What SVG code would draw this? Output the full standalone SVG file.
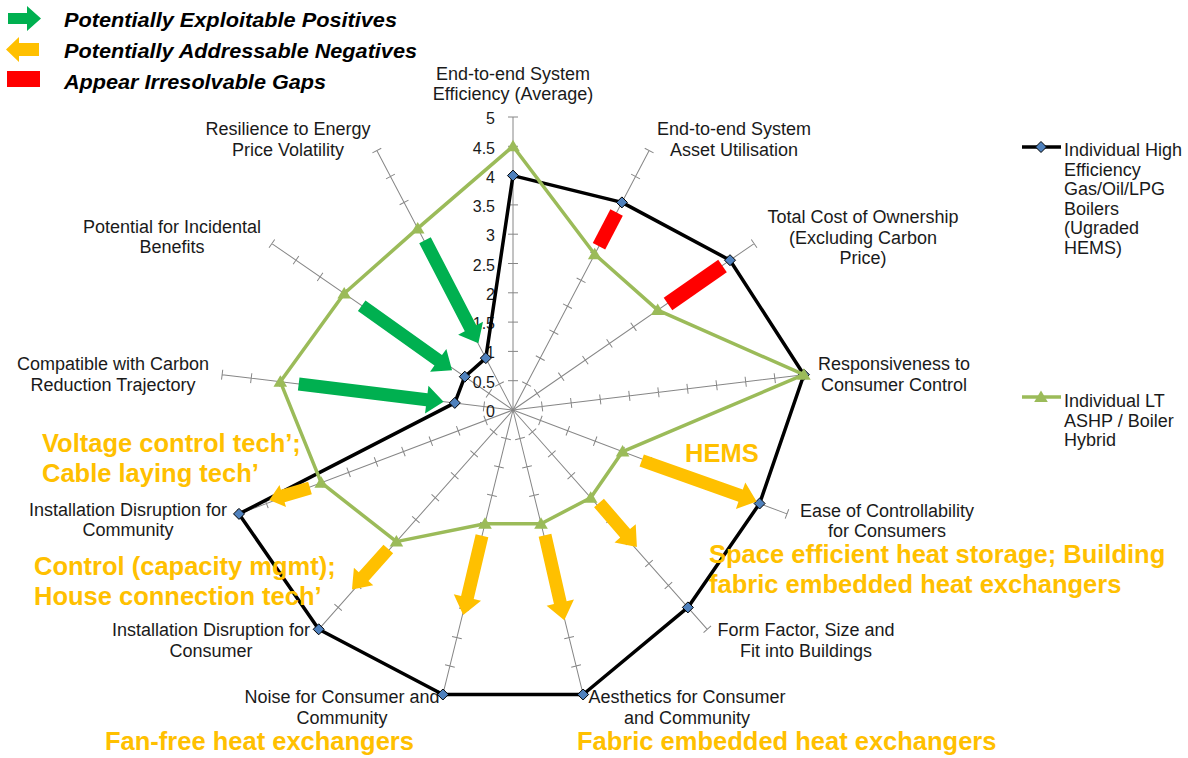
<svg xmlns="http://www.w3.org/2000/svg" xmlns:xlink="http://www.w3.org/1999/xlink" width="1188" height="758" viewBox="0 0 1188 758">
<style>
  .lbl{font-family:"Liberation Sans",Arial,sans-serif;font-size:18px;fill:#1a1a1a;text-anchor:middle}
  .val{font-family:"Liberation Sans",Arial,sans-serif;font-size:16px;fill:#1a1a1a;text-anchor:end}
  .leg{font-family:"Liberation Sans",Arial,sans-serif;font-size:18px;fill:#1a1a1a}
  .key{font-family:"Liberation Sans",Arial,sans-serif;font-size:20px;font-weight:bold;font-style:italic;fill:#000}
  .ann{font-family:"Liberation Sans",Arial,sans-serif;font-size:25.5px;font-weight:bold;fill:#FFC000}
  .axis{stroke:#868686;stroke-width:1;fill:none}
  .blk{fill:none;stroke:#000;stroke-width:3.5;stroke-linejoin:round}
  .grn{fill:none;stroke:#9BBB59;stroke-width:3.5;stroke-linejoin:round}
  .dia{fill:#4F81BD;stroke:#000;stroke-width:1}
  .tri{fill:#9BBB59}
  .ga{fill:#00B050}
  .ya{fill:#FFC000}
  .gap{stroke:#FF0000;fill:none}
</style>
<defs>
  <path id="ax" d="M513 410V117M508 380.7h10M508 351.4h10M508 322.1h10M508 292.8h10M508 263.5h10M508 234.2h10M508 204.9h10M508 175.6h10M508 146.3h10M508 117h10"/>
  <path id="dm" d="M0 -5.5L5.5 0L0 5.5L-5.5 0Z"/>
  <path id="tr" d="M0 -6.5L6.8 5L-6.8 5Z"/>
</defs>
<rect width="1188" height="758" fill="#fff"/>

<g id="key">
  <polygon class="ga" points="8,13 27,13 27,6 41,18.5 27,31 27,24 8,24"/>
  <text class="key" x="64" y="27" textLength="333" lengthAdjust="spacingAndGlyphs">Potentially Exploitable Positives</text>
  <polygon class="ya" points="6,49.5 19,37 19,43 39,43 39,56 19,56 19,62"/>
  <text class="key" x="64" y="58" textLength="353" lengthAdjust="spacingAndGlyphs">Potentially Addressable Negatives</text>
  <rect x="7" y="71" width="33" height="16" fill="#FF0000"/>
  <text class="key" x="64" y="89" textLength="262" lengthAdjust="spacingAndGlyphs">Appear Irresolvable Gaps</text>
</g>

<g id="grid" class="axis">
  <use xlink:href="#ax"/>
  <use xlink:href="#ax" transform="rotate(27.6923 513 410)"/>
  <use xlink:href="#ax" transform="rotate(55.3846 513 410)"/>
  <use xlink:href="#ax" transform="rotate(83.0769 513 410)"/>
  <use xlink:href="#ax" transform="rotate(110.7692 513 410)"/>
  <use xlink:href="#ax" transform="rotate(138.4615 513 410)"/>
  <use xlink:href="#ax" transform="rotate(166.1538 513 410)"/>
  <use xlink:href="#ax" transform="rotate(193.8462 513 410)"/>
  <use xlink:href="#ax" transform="rotate(221.5385 513 410)"/>
  <use xlink:href="#ax" transform="rotate(249.2308 513 410)"/>
  <use xlink:href="#ax" transform="rotate(276.9231 513 410)"/>
  <use xlink:href="#ax" transform="rotate(304.6154 513 410)"/>
  <use xlink:href="#ax" transform="rotate(332.3077 513 410)"/>
</g>

<g id="values">
  <text class="val" x="495" y="417">0</text>
  <text class="val" x="495" y="388">0.5</text>
  <text class="val" x="495" y="358">1</text>
  <text class="val" x="495" y="329">1.5</text>
  <text class="val" x="495" y="300">2</text>
  <text class="val" x="495" y="271">2.5</text>
  <text class="val" x="495" y="241">3</text>
  <text class="val" x="495" y="212">3.5</text>
  <text class="val" x="495" y="183">4</text>
  <text class="val" x="495" y="154">4.5</text>
  <text class="val" x="495" y="124">5</text>
</g>

<g id="categories">
  <g id="cat0"><text class="lbl" x="513" y="80">End-to-end System</text><text class="lbl" x="513" y="100">Efficiency (Average)</text></g>
  <g id="cat1"><text class="lbl" x="734" y="135">End-to-end System</text><text class="lbl" x="734" y="156">Asset Utilisation</text></g>
  <g id="cat2"><text class="lbl" x="863" y="223">Total Cost of Ownership</text><text class="lbl" x="863" y="244">(Excluding Carbon</text><text class="lbl" x="863" y="264">Price)</text></g>
  <g id="cat3"><text class="lbl" x="894" y="370">Responsiveness to</text><text class="lbl" x="894" y="391">Consumer Control</text></g>
  <g id="cat4"><text class="lbl" x="887" y="517">Ease of Controllability</text><text class="lbl" x="887" y="537">for Consumers</text></g>
  <g id="cat5"><text class="lbl" x="806" y="636">Form Factor, Size and</text><text class="lbl" x="806" y="657">Fit into Buildings</text></g>
  <g id="cat6"><text class="lbl" x="687" y="703">Aesthetics for Consumer</text><text class="lbl" x="687" y="724">and Community</text></g>
  <g id="cat7"><text class="lbl" x="342" y="703">Noise for Consumer and</text><text class="lbl" x="342" y="724">Community</text></g>
  <g id="cat8"><text class="lbl" x="211" y="636">Installation Disruption for</text><text class="lbl" x="211" y="657">Consumer</text></g>
  <g id="cat9"><text class="lbl" x="128" y="516">Installation Disruption for</text><text class="lbl" x="128" y="536">Community</text></g>
  <g id="cat10"><text class="lbl" x="113" y="370">Compatible with Carbon</text><text class="lbl" x="113" y="391">Reduction Trajectory</text></g>
  <g id="cat11"><text class="lbl" x="172" y="233">Potential for Incidental</text><text class="lbl" x="172" y="253">Benefits</text></g>
  <g id="cat12"><text class="lbl" x="288" y="135">Resilience to Energy</text><text class="lbl" x="288" y="156">Price Volatility</text></g>
</g>

<g id="series-boilers">
  <polygon class="blk" points="513,175.6 621.9,202.4 730,260.2 803.9,374.7 759.6,503.5 687.9,607.4 583.1,694.5 442.9,694.5 318.7,629.3 239,513.9 454.8,402.9 464.8,376.7 485.8,358.1"/>
  <g class="dia">
    <use xlink:href="#dm" x="513" y="175.6"/><use xlink:href="#dm" x="621.9" y="202.4"/><use xlink:href="#dm" x="730" y="260.2"/>
    <use xlink:href="#dm" x="803.9" y="374.7"/><use xlink:href="#dm" x="759.6" y="503.5"/><use xlink:href="#dm" x="687.9" y="607.4"/>
    <use xlink:href="#dm" x="583.1" y="694.5"/><use xlink:href="#dm" x="442.9" y="694.5"/><use xlink:href="#dm" x="318.7" y="629.3"/>
    <use xlink:href="#dm" x="239" y="513.9"/><use xlink:href="#dm" x="454.8" y="402.9"/><use xlink:href="#dm" x="464.8" y="376.7"/>
    <use xlink:href="#dm" x="485.8" y="358.1"/>
  </g>
</g>

<g id="series-ashp">
  <polygon class="grn" points="513,146.3 594.7,254.3 657.7,310.1 803.9,374.7 622.6,451.6 590.7,497.7 541,523.8 485,523.8 396.4,541.6 321.2,482.7 280.3,381.7 344.2,293.5 417.7,228.4"/>
  <g class="tri">
    <use xlink:href="#tr" x="513" y="146.3"/><use xlink:href="#tr" x="594.7" y="254.3"/><use xlink:href="#tr" x="657.7" y="310.1"/>
    <use xlink:href="#tr" x="803.9" y="374.7"/><use xlink:href="#tr" x="622.6" y="451.6"/><use xlink:href="#tr" x="590.7" y="497.7"/>
    <use xlink:href="#tr" x="541" y="523.8"/><use xlink:href="#tr" x="485" y="523.8"/><use xlink:href="#tr" x="396.4" y="541.6"/>
    <use xlink:href="#tr" x="321.2" y="482.7"/><use xlink:href="#tr" x="280.3" y="381.7"/><use xlink:href="#tr" x="344.2" y="293.5"/>
    <use xlink:href="#tr" x="417.7" y="228.4"/>
  </g>
</g>

<g id="connectors">
  <g id="positives" class="ga">
    <polygon points="0,-6.5 99,-6.5 99,-14 116,0 99,14 99,6.5 0,6.5" transform="translate(425 240.3) rotate(62.6)"/>
    <polygon points="0,-6.5 94,-6.5 94,-14 111,0 94,14 94,6.5 0,6.5" transform="translate(361.7 305.7) rotate(35.5)"/>
    <polygon points="0,-6.5 129,-6.5 129,-14 146,0 129,14 129,6.5 0,6.5" transform="translate(298.7 384) rotate(7)"/>
  </g>
  <g id="negatives" class="ya">
    <polygon points="0,-6.5 105,-6.5 105,-14 122,0 105,14 105,6.5 0,6.5" transform="translate(641.7 460.5) rotate(19.6)"/>
    <polygon points="0,-6.5 40,-6.5 40,-14 58,0 40,14 40,6.5 0,6.5" transform="translate(599 503) rotate(49.2)"/>
    <polygon points="0,-6.5 69,-6.5 69,-14 87,0 69,14 69,6.5 0,6.5" transform="translate(545 535.3) rotate(77.2)"/>
    <polygon points="0,-6.5 63.5,-6.5 63.5,-14 81.5,0 63.5,14 63.5,6.5 0,6.5" transform="translate(482 535.7) rotate(103.3)"/>
    <polygon points="0,-6.5 37,-6.5 37,-13 54.4,0 37,13 37,6.5 0,6.5" transform="translate(388.3 549) rotate(131.9)"/>
    <polygon points="0,-6.5 28.4,-6.5 28.4,-11.5 42.4,0 28.4,11.5 28.4,6.5 0,6.5" transform="translate(310 488) rotate(163.6)"/>
  </g>
  <g id="gaps" class="gap">
    <line x1="616.6" y1="212.5" x2="599" y2="246.2" stroke-width="14"/>
    <line x1="722.5" y1="266" x2="668" y2="304" stroke-width="15"/>
  </g>
</g>

<g id="annotations">
  <text class="ann" x="42" y="452">Voltage control tech’;</text>
  <text class="ann" x="42" y="482">Cable laying tech’</text>
  <text class="ann" x="34" y="575">Control (capacity mgmt);</text>
  <text class="ann" x="34" y="605">House connection tech’</text>
  <text class="ann" x="105" y="750">Fan-free heat exchangers</text>
  <text class="ann" x="685" y="462">HEMS</text>
  <text class="ann" x="709" y="563">Space efficient heat storage; Building</text>
  <text class="ann" x="709" y="593">fabric embedded heat exchangers</text>
  <text class="ann" x="577" y="750">Fabric embedded heat exchangers</text>
</g>

<g id="legend">
  <g id="leg-boilers">
    <line x1="1022" y1="147" x2="1061" y2="147" stroke="#000" stroke-width="3.5"/>
    <use xlink:href="#dm" x="1041" y="147" class="dia"/>
    <text class="leg" x="1064" y="156">Individual High</text>
    <text class="leg" x="1064" y="175.5">Efficiency</text>
    <text class="leg" x="1064" y="195">Gas/Oil/LPG</text>
    <text class="leg" x="1064" y="214.5">Boilers</text>
    <text class="leg" x="1064" y="234">(Ugraded</text>
    <text class="leg" x="1064" y="253.5">HEMS)</text>
  </g>
  <g id="leg-ashp">
    <line x1="1022" y1="397" x2="1061" y2="397" stroke="#9BBB59" stroke-width="3.5"/>
    <use xlink:href="#tr" x="1041" y="397" class="tri"/>
    <text class="leg" x="1064" y="407">Individual LT</text>
    <text class="leg" x="1064" y="426.5">ASHP / Boiler</text>
    <text class="leg" x="1064" y="446">Hybrid</text>
  </g>
</g>
</svg>
